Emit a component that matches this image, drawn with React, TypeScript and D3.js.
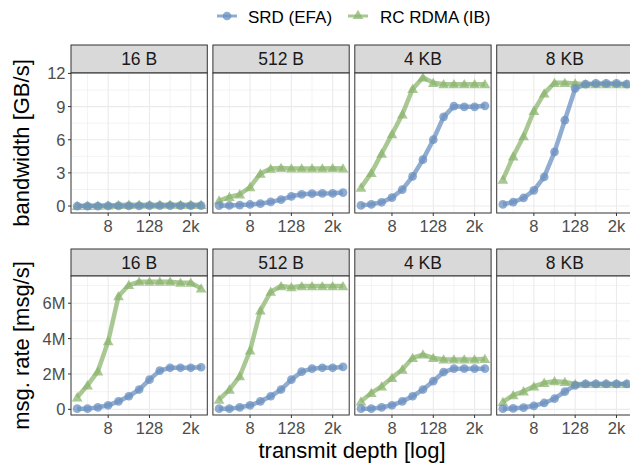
import React from 'react'
import * as d3 from 'd3'

// transmit depth (x), message sizes (facets) and series
const depths = [1, 2, 4, 8, 16, 32, 64, 128, 256, 512, 1024, 2048, 4096]
const sizes = ['16 B', '512 B', '4 KB', '8 KB']
const seriesNames = ['SRD (EFA)', 'RC RDMA (IB)']

const xTicks = [8, 128, 2048]
const xTickLabels = ['8', '128', '2k']
const xMinor = [2, 32, 512]
const bwTicks = [0, 3, 6, 9, 12]
const bwMinor = [1.5, 4.5, 7.5, 10.5]
const rateTicks = [0, 2, 4, 6]
const rateTickLabels = ['0', '2M', '4M', '6M']
const rateMinor = [1, 3, 5, 7]

// bandwidth [GB/s]
const srdBw16 = [0.0, 0.0, 0.0, 0.01, 0.01, 0.01, 0.02, 0.03, 0.03, 0.04, 0.04, 0.04, 0.04]
const rcBw16 = [0.01, 0.02, 0.03, 0.06, 0.1, 0.11, 0.12, 0.12, 0.12, 0.12, 0.11, 0.11, 0.11]
const srdBw512 = [0.03, 0.05, 0.09, 0.14, 0.22, 0.37, 0.58, 0.88, 1.06, 1.12, 1.14, 1.15, 1.22]
const rcBw512 = [0.5, 0.82, 1.06, 1.72, 2.94, 3.39, 3.45, 3.4, 3.4, 3.4, 3.4, 3.43, 3.4]
const srdBw4k = [0.06, 0.15, 0.34, 0.76, 1.49, 2.69, 4.2, 6.0, 8.07, 9.04, 8.98, 8.98, 9.07]
const rcBw4k = [1.67, 3.0, 4.75, 6.5, 8.29, 10.6, 11.64, 11.15, 11.03, 11.03, 11.03, 11.03, 11.03]
const srdBw8k = [0.15, 0.36, 0.73, 1.42, 2.63, 4.9, 7.77, 10.64, 11.03, 11.1, 11.1, 11.1, 11.03]
const rcBw8k = [2.39, 4.5, 6.32, 8.62, 10.19, 11.15, 11.15, 11.1, 11.03, 11.03, 11.03, 11.03, 11.03]

// message rate [M msg/s]
const srdRate16 = [0.04, 0.04, 0.11, 0.23, 0.45, 0.74, 1.12, 1.68, 2.19, 2.35, 2.35, 2.35, 2.38]
const rcRate16 = [0.68, 1.36, 2.15, 3.85, 6.4, 7.03, 7.22, 7.22, 7.22, 7.22, 7.16, 7.16, 6.84]
const srdRate512 = [0.04, 0.04, 0.11, 0.23, 0.45, 0.74, 1.12, 1.68, 2.13, 2.3, 2.35, 2.35, 2.4]
const rcRate512 = [0.55, 1.12, 1.87, 3.33, 5.59, 6.65, 6.97, 6.91, 6.97, 6.97, 6.97, 6.97, 6.97]
const srdRate4k = [0.04, 0.04, 0.11, 0.23, 0.45, 0.74, 1.12, 1.59, 2.11, 2.3, 2.3, 2.3, 2.3]
const rcRate4k = [0.45, 0.93, 1.3, 1.78, 2.25, 2.91, 3.1, 2.91, 2.82, 2.82, 2.82, 2.82, 2.85]
const srdRate8k = [0.04, 0.05, 0.1, 0.2, 0.36, 0.6, 1.0, 1.36, 1.44, 1.44, 1.44, 1.44, 1.44]
const rcRate8k = [0.42, 0.8, 1.02, 1.3, 1.5, 1.59, 1.55, 1.44, 1.44, 1.44, 1.44, 1.44, 1.44]

const bandwidth = [
  [srdBw16, rcBw16],
  [srdBw512, rcBw512],
  [srdBw4k, rcBw4k],
  [srdBw8k, rcBw8k],
]
const rate = [
  [srdRate16, rcRate16],
  [srdRate512, rcRate512],
  [srdRate4k, rcRate4k],
  [srdRate8k, rcRate8k],
]

const colors = ['#6b90c0', '#8cb56f']
const font = 'Liberation Sans, Arial, Helvetica, sans-serif'

const W = 630
const H = 463
const panelLeft = 71
const panelStep = 141.9
const panelW = 136.3

const rows = [
  {
    stripTop: 45, top: 73, bottom: 213,
    values: bandwidth, domain: [-0.63, 12.04],
    ticks: bwTicks, tickLabels: bwTicks.map(String), minor: bwMinor,
    title: 'bandwidth [GB/s]',
  },
  {
    stripTop: 249, top: 276, bottom: 415,
    values: rate, domain: [-0.32, 7.54],
    ticks: rateTicks, tickLabels: rateTickLabels, minor: rateMinor,
    title: 'msg. rate [msg/s]',
  },
]

const x = d3.scaleLog().base(2).domain([Math.pow(2, -0.6), Math.pow(2, 12.6)]).range([0, panelW])

const circle = d3.symbol().type(d3.symbolCircle).size(100)
const triangle = d3.symbol().type(d3.symbolTriangle).size(80)

function Panel({ row, col }: { row: any; col: number }) {
  const left = panelLeft + col * panelStep
  const h = row.bottom - row.top
  const y = d3.scaleLinear().domain(row.domain).range([h, 0])
  const line = d3.line<number>()
    .x((_, i) => x(depths[i]))
    .y(d => y(d))
  const series = row.values[col]
  const order = [1, 0]
  return (
    <g>
      <g transform={`translate(${left},${row.stripTop})`}>
        <rect width={panelW} height={row.top - row.stripTop} fill="#d9d9d9" stroke="#333" strokeWidth={1} />
        <text x={panelW / 2} y={(row.top - row.stripTop) / 2 + 6} textAnchor="middle"
          fontSize={17.5} fill="#1a1a1a" fontFamily={font}>{sizes[col]}</text>
      </g>
      <g transform={`translate(${left},${row.top})`}>
        <rect width={panelW} height={h} fill="white" />
        {row.minor.map((v: number) => (
          <line key={'ym' + v} x1={0} x2={panelW} y1={y(v)} y2={y(v)} stroke="#ebebeb" strokeWidth={0.6} />
        ))}
        {xMinor.map(v => (
          <line key={'xm' + v} x1={x(v)} x2={x(v)} y1={0} y2={h} stroke="#ebebeb" strokeWidth={0.6} />
        ))}
        {row.ticks.map((v: number) => (
          <line key={'y' + v} x1={0} x2={panelW} y1={y(v)} y2={y(v)} stroke="#ebebeb" strokeWidth={1.1} />
        ))}
        {xTicks.map(v => (
          <line key={'x' + v} x1={x(v)} x2={x(v)} y1={0} y2={h} stroke="#ebebeb" strokeWidth={1.1} />
        ))}
        {order.map(s => (
          <path key={'l' + s} d={line(series[s]) || ''} fill="none" stroke={colors[s]}
            strokeWidth={4.5} strokeOpacity={0.75} strokeLinejoin="round" />
        ))}
        {order.map(s => series[s].map((v: number, i: number) => (
          <path key={'p' + s + '-' + i} d={(s === 0 ? circle() : triangle()) || ''}
            transform={`translate(${x(depths[i])},${y(v) + (s === 1 ? 1 : 0)})`}
            fill={colors[s]} fillOpacity={0.75} />
        )))}
        <rect width={panelW} height={h} fill="none" stroke="#333" strokeWidth={1} />
        {xTicks.map((v, i) => (
          <g key={'xt' + v} transform={`translate(${x(v)},${h})`}>
            <line y1={0} y2={3} stroke="#333" strokeWidth={1} />
            <text y={19} textAnchor="middle" fontSize={16.5} fill="#4d4d4d" fontFamily={font}>{xTickLabels[i]}</text>
          </g>
        ))}
        {col === 0 && row.ticks.map((v: number, i: number) => (
          <g key={'yt' + v} transform={`translate(0,${y(v)})`}>
            <line x1={-3} x2={0} stroke="#333" strokeWidth={1} />
            <text x={-5.5} y={6} textAnchor="end" fontSize={16.5} fill="#4d4d4d" fontFamily={font}>{row.tickLabels[i]}</text>
          </g>
        ))}
      </g>
    </g>
  )
}

export default function App() {
  return (
    <svg width={W} height={H} style={{ position: 'absolute', left: 0, top: 0, background: 'white' }}>
      <rect width={W} height={H} fill="white" />
      {rows.map((row, r) => (
        <g key={r}>
          {sizes.map((_, c) => <Panel key={c} row={row} col={c} />)}
          <text transform={`translate(29,${(row.top + row.bottom) / 2}) rotate(-90)`} textAnchor="middle"
            fontSize={22} fill="black" fontFamily={font}>{row.title}</text>
        </g>
      ))}
      <text x={panelLeft + (3 * panelStep + panelW) / 2} y={458} textAnchor="middle" fontSize={22}
        fill="black" fontFamily={font}>transmit depth [log]</text>
      <g>
        <line x1={217} x2={237} y1={16} y2={16} stroke={colors[0]} strokeWidth={3} strokeOpacity={0.75} />
        <path d={circle.size(60)() || ''} transform="translate(227,16)" fill={colors[0]} fillOpacity={0.75} />
        <text x={248} y={23} fontSize={17} fill="black" fontFamily={font}>{seriesNames[0]}</text>
        <line x1={348} x2={368} y1={16} y2={16} stroke={colors[1]} strokeWidth={3} strokeOpacity={0.75} />
        <path d={triangle.size(50)() || ''} transform="translate(358,16)" fill={colors[1]} fillOpacity={0.75} />
        <text x={380} y={23} fontSize={17} fill="black" fontFamily={font}>{seriesNames[1]}</text>
      </g>
    </svg>
  )
}
